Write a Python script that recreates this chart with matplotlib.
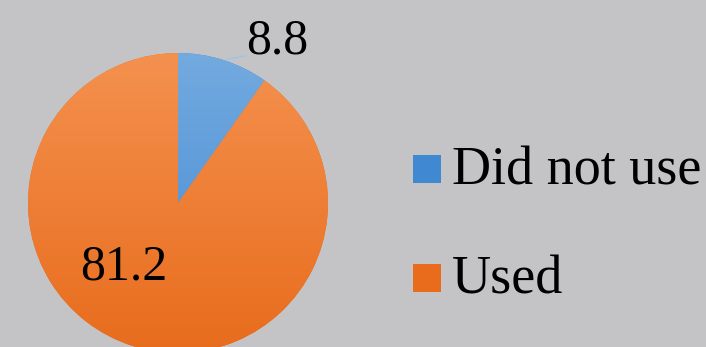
import numpy as np
import matplotlib
matplotlib.use("Agg")
import matplotlib.pyplot as plt
from matplotlib.colors import LinearSegmentedColormap
from matplotlib.patches import Rectangle

categories = ["Did not use", "Used"]
values = [8.8, 81.2]
value_labels = ["8.8", "81.2"]
top_colors = ["#73aadf", "#f4914f"]
bottom_colors = ["#4188d2", "#e86c1c"]
bg = "#c4c4c6"

W, H = 706, 347
fig = plt.figure(figsize=(W / 100, H / 100), dpi=100, facecolor=bg)
ax = fig.add_axes([0, 0, 1, 1])
ax.set_facecolor(bg)

cx, cy, r = 178, H - 203, 150
wedges, _ = ax.pie(values, startangle=90, counterclock=False, center=(cx, cy),
                   radius=r, colors=bottom_colors, frame=True,
                   wedgeprops=dict(linewidth=0))
ax.set_xlim(0, W)
ax.set_ylim(0, H)
ax.set_aspect("equal")
ax.axis("off")

grad = np.linspace(0, 1, 256).reshape(-1, 1)


def gradient_fill(patch, ct, cb, extent):
    cmap = LinearSegmentedColormap.from_list("g", [cb, ct])
    im = ax.imshow(grad, cmap=cmap, origin="lower", aspect="auto",
                   extent=extent, zorder=2)
    im.set_clip_path(patch)


for w, ct, cb in zip(wedges, top_colors, bottom_colors):
    gradient_fill(w, ct, cb, (cx - r, cx + r, cy - r, cy + r))

font = "Liberation Serif"
ax.text(277, H - 41, value_labels[0], fontsize=36, family=font, ha="center", va="center", zorder=5)
ax.text(124, H - 267, value_labels[1], fontsize=36, family=font, ha="center", va="center", zorder=5)
ax.plot([227, 245], [H - 59, H - 56], color="#9fc3e6", lw=1, zorder=4)

# legend
sq = 28
rows_y = [H - 183, H - 292]
for lab, ct, cb, y0 in zip(categories, top_colors, bottom_colors, rows_y):
    rect = Rectangle((413, y0), sq, sq, facecolor=cb, edgecolor="none", zorder=3)
    ax.add_patch(rect)
    gradient_fill(rect, ct, cb, (413, 413 + sq, y0, y0 + sq))
    ax.text(452, y0 - 1, lab, fontsize=39, family=font, ha="left", va="baseline", zorder=5)

fig.savefig("out.png", dpi=100, facecolor=bg)
